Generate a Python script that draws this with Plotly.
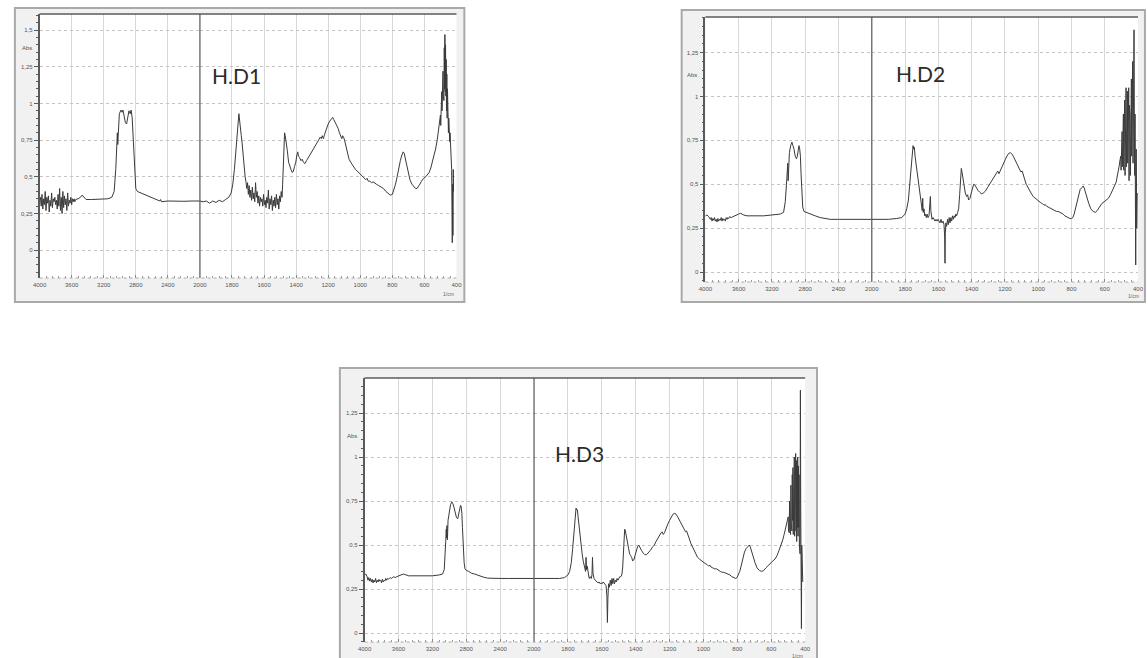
import plotly.graph_objects as go

W, H = 1148, 658

# ---- FTIR spectra: wavenumber (cm-1) and absorbance ----
hd1_wn = [4000, 3990, 3980, 3970, 3960, 3950, 3940, 3930, 3920, 3910, 3900, 3890, 3880, 3870, 3860,
          3850, 3840, 3830, 3820, 3810, 3800, 3790, 3780, 3770, 3760, 3750, 3740, 3730, 3720, 3710,
          3700, 3690, 3680, 3670, 3660, 3650, 3640, 3630, 3620, 3610, 3600, 3590, 3580, 3570, 3560,
          3550, 3520, 3490, 3470, 3450, 3420, 3350, 3250, 3150, 3100, 3070, 3050, 3040, 3030, 3025,
          3018, 3005, 2985, 2970, 2960, 2945, 2930, 2915, 2900, 2885, 2870, 2858, 2845, 2830, 2815,
          2800, 2780, 2740, 2700, 2650, 2600, 2540, 2500, 2490, 2480, 2400, 2300, 2200, 2100, 2000,
          1980, 1960, 1940, 1920, 1900, 1880, 1860, 1840, 1820, 1805, 1795, 1785, 1777, 1768, 1762,
          1757, 1752, 1748, 1742, 1737, 1730, 1724, 1718, 1712, 1708, 1703, 1698, 1693, 1688, 1683,
          1678, 1673, 1668, 1663, 1658, 1653, 1648, 1643, 1638, 1633, 1628, 1623, 1618, 1613, 1608,
          1603, 1598, 1593, 1588, 1583, 1578, 1573, 1568, 1563, 1558, 1553, 1548, 1543, 1538, 1533,
          1528, 1523, 1518, 1513, 1508, 1503, 1498, 1493, 1488, 1484, 1480, 1476, 1472, 1468, 1462,
          1455, 1447, 1440, 1432, 1425, 1418, 1410, 1402, 1395, 1390, 1385, 1378, 1370, 1362, 1355,
          1345, 1335, 1325, 1315, 1300, 1290, 1280, 1270, 1260, 1250, 1243, 1237, 1230, 1222, 1212,
          1200, 1190, 1180, 1172, 1165, 1155, 1145, 1138, 1130, 1122, 1115, 1110, 1104, 1098, 1090,
          1080, 1070, 1060, 1050, 1040, 1030, 1020, 1010, 1000, 990, 975, 965, 958, 950, 940,
          930, 920, 910, 900, 885, 870, 855, 840, 825, 812, 800, 790, 780, 770, 760,
          750, 740, 732, 726, 718, 710, 700, 690, 678, 665, 655, 646, 638, 628, 618,
          605, 592, 580, 570, 560, 550, 540, 530, 520, 510, 505, 500, 498, 496, 494,
          492, 490, 488, 486, 484, 482, 480, 478, 476, 474, 472, 470, 468, 466, 464,
          462, 460, 458, 456, 454, 452, 450, 448, 446, 444, 442, 440, 436, 432, 430,
          428, 426, 424, 422, 420, 418]
hd1_abs = [0.34, 0.36, 0.30, 0.38, 0.28, 0.35, 0.31, 0.40, 0.27, 0.36, 0.32, 0.37, 0.26, 0.34, 0.30,
           0.39, 0.29, 0.35, 0.33, 0.36, 0.31, 0.34, 0.28, 0.38, 0.30, 0.42, 0.27, 0.36, 0.25, 0.40,
           0.29, 0.37, 0.31, 0.35, 0.27, 0.39, 0.30, 0.34, 0.32, 0.36, 0.31, 0.35, 0.33, 0.35, 0.33,
           0.345, 0.35, 0.36, 0.375, 0.36, 0.345, 0.345, 0.345, 0.35, 0.36, 0.40, 0.55, 0.70, 0.80, 0.72,
           0.85, 0.93, 0.955, 0.94, 0.955, 0.90, 0.87, 0.86, 0.90, 0.95, 0.93, 0.955, 0.90, 0.70, 0.50,
           0.42, 0.40, 0.39, 0.385, 0.37, 0.355, 0.345, 0.335, 0.345, 0.33, 0.335, 0.333, 0.333, 0.335, 0.335,
           0.33, 0.335, 0.32, 0.335, 0.325, 0.34, 0.33, 0.345, 0.36, 0.39, 0.45, 0.55, 0.68, 0.80, 0.90,
           0.93, 0.88, 0.82, 0.78, 0.73, 0.62, 0.55, 0.50, 0.46, 0.42, 0.46, 0.38, 0.44, 0.36, 0.41,
           0.34, 0.43, 0.35, 0.39, 0.33, 0.46, 0.36, 0.40, 0.32, 0.37, 0.30, 0.36, 0.33, 0.35, 0.30,
           0.38, 0.31, 0.34, 0.29, 0.36, 0.32, 0.41, 0.28, 0.35, 0.31, 0.37, 0.27, 0.34, 0.30, 0.36,
           0.29, 0.38, 0.31, 0.35, 0.28, 0.37, 0.33, 0.40, 0.36, 0.45, 0.62, 0.74, 0.80, 0.78, 0.74,
           0.68, 0.60, 0.57, 0.55, 0.53, 0.535, 0.57, 0.60, 0.65, 0.67, 0.64, 0.63, 0.61, 0.62, 0.60,
           0.59, 0.61, 0.63, 0.65, 0.68, 0.69, 0.71, 0.73, 0.75, 0.77, 0.76, 0.78, 0.76, 0.79, 0.83,
           0.86, 0.88, 0.895, 0.905, 0.89, 0.87, 0.85, 0.83, 0.80, 0.77, 0.76, 0.78, 0.77, 0.75, 0.71,
           0.66, 0.62, 0.60, 0.58, 0.56, 0.55, 0.54, 0.53, 0.52, 0.51, 0.49, 0.48, 0.49, 0.47, 0.47,
           0.46, 0.465, 0.455, 0.45, 0.44, 0.43, 0.42, 0.40, 0.385, 0.375, 0.38, 0.41, 0.45, 0.50, 0.56,
           0.61, 0.65, 0.67, 0.66, 0.62, 0.57, 0.52, 0.48, 0.45, 0.43, 0.42, 0.42, 0.43, 0.45, 0.47,
           0.49, 0.50, 0.515, 0.53, 0.56, 0.60, 0.64, 0.69, 0.75, 0.82, 0.87, 0.92, 0.85, 0.98, 0.90,
           1.08, 0.95, 1.15, 1.00, 1.22, 1.05, 1.30, 1.02, 1.38, 1.10, 1.47, 1.08, 1.40, 1.05, 1.30,
           0.95, 1.20, 0.90, 1.10, 0.82, 0.98, 0.80, 0.90, 0.76, 0.85, 0.74, 0.80, 0.70, 0.60, 0.55,
           0.30, 0.05, 0.45, 0.10, 0.55, 0.40]

hd2_wn = [4000, 3980, 3960, 3940, 3930, 3920, 3910, 3900, 3890, 3880, 3870, 3860, 3850, 3840, 3830,
          3820, 3810, 3800, 3790, 3780, 3770, 3760, 3750, 3740, 3730, 3720, 3710, 3690, 3670, 3640,
          3620, 3600, 3580, 3560, 3540, 3500, 3450, 3400, 3300, 3200, 3100, 3060, 3040, 3025, 3018,
          3014, 3010, 3005, 3000, 2990, 2975, 2960, 2948, 2935, 2920, 2905, 2895, 2885, 2875, 2866,
          2858, 2850, 2840, 2830, 2815, 2790, 2760, 2720, 2680, 2620, 2560, 2500, 2400, 2300, 2200,
          2100, 2000, 1950, 1900, 1850, 1820, 1800, 1790, 1780, 1772, 1765, 1758, 1752, 1748, 1744,
          1740, 1734, 1728, 1722, 1716, 1710, 1704, 1700, 1697, 1694, 1691, 1686, 1682, 1678, 1672,
          1668, 1662, 1656, 1652, 1648, 1645, 1642, 1638, 1632, 1626, 1620, 1614, 1608, 1602, 1596,
          1590, 1584, 1578, 1572, 1566, 1562, 1560, 1558, 1555, 1550, 1545, 1540, 1535, 1530, 1525,
          1520, 1515, 1510, 1505, 1500, 1495, 1490, 1484, 1478, 1472, 1466, 1462, 1458, 1452, 1445,
          1438, 1430, 1424, 1418, 1410, 1402, 1395, 1388, 1380, 1372, 1362, 1352, 1340, 1330, 1318,
          1305, 1292, 1280, 1270, 1260, 1250, 1243, 1236, 1228, 1218, 1208, 1198, 1188, 1178, 1168,
          1160, 1150, 1140, 1130, 1120, 1112, 1104, 1096, 1090, 1082, 1072, 1062, 1050, 1040, 1030,
          1018, 1005, 995, 985, 975, 965, 958, 950, 940, 930, 920, 910, 900, 890, 880,
          870, 860, 850, 840, 830, 820, 810, 800, 792, 784, 776, 768, 758, 748, 738,
          730, 724, 716, 706, 696, 684, 670, 656, 645, 632, 618, 604, 590, 578, 566,
          554, 542, 532, 522, 514, 508, 504, 502, 500, 498, 496, 494, 492, 490, 488,
          486, 484, 482, 480, 478, 476, 474, 472, 470, 468, 466, 464, 462, 460, 458,
          456, 454, 452, 450, 448, 446, 444, 442, 440, 438, 436, 434, 432, 430, 428,
          426, 424, 422, 420, 418, 416, 414, 411, 408, 405]
hd2_abs = [0.32, 0.325, 0.315, 0.30, 0.31, 0.29, 0.305, 0.295, 0.31, 0.29, 0.30, 0.285, 0.305, 0.29, 0.30,
           0.295, 0.31, 0.29, 0.305, 0.295, 0.30, 0.29, 0.31, 0.30, 0.31, 0.305, 0.315, 0.31, 0.315, 0.32,
           0.325, 0.33, 0.335, 0.33, 0.325, 0.32, 0.32, 0.32, 0.32, 0.325, 0.33, 0.34, 0.40, 0.50, 0.60,
           0.55, 0.62, 0.52, 0.62, 0.68, 0.72, 0.74, 0.72, 0.70, 0.66, 0.645, 0.66, 0.69, 0.72, 0.70,
           0.66, 0.56, 0.45, 0.37, 0.345, 0.34, 0.335, 0.325, 0.32, 0.31, 0.305, 0.30, 0.30, 0.30, 0.30,
           0.30, 0.30, 0.30, 0.30, 0.305, 0.31, 0.33, 0.36, 0.41, 0.50, 0.60, 0.68, 0.72, 0.70, 0.71,
           0.66, 0.62, 0.58, 0.54, 0.48, 0.44, 0.40, 0.37, 0.35, 0.42, 0.34, 0.36, 0.32, 0.33, 0.31,
           0.33, 0.31, 0.32, 0.36, 0.43, 0.35, 0.31, 0.30, 0.31, 0.30, 0.29, 0.30, 0.29, 0.30, 0.29,
           0.28, 0.30, 0.28, 0.29, 0.27, 0.20, 0.05, 0.22, 0.28, 0.26, 0.30, 0.27, 0.31, 0.28, 0.31,
           0.29, 0.32, 0.30, 0.32, 0.31, 0.33, 0.32, 0.34, 0.36, 0.44, 0.54, 0.59, 0.57, 0.53, 0.48,
           0.45, 0.43, 0.44, 0.41, 0.42, 0.45, 0.48, 0.50, 0.495, 0.48, 0.465, 0.455, 0.445, 0.45, 0.46,
           0.48, 0.50, 0.52, 0.54, 0.555, 0.57, 0.575, 0.56, 0.575, 0.60, 0.62, 0.64, 0.66, 0.675, 0.68,
           0.675, 0.66, 0.64, 0.62, 0.60, 0.58, 0.57, 0.575, 0.56, 0.53, 0.50, 0.48, 0.46, 0.445, 0.43,
           0.42, 0.41, 0.40, 0.395, 0.39, 0.38, 0.385, 0.375, 0.37, 0.365, 0.362, 0.355, 0.35, 0.345, 0.345,
           0.34, 0.335, 0.33, 0.32, 0.315, 0.31, 0.305, 0.305, 0.31, 0.33, 0.36, 0.40, 0.44, 0.47, 0.48,
           0.49, 0.48, 0.45, 0.42, 0.39, 0.36, 0.345, 0.34, 0.35, 0.37, 0.39, 0.40, 0.41, 0.42, 0.44,
           0.47, 0.49, 0.51, 0.55, 0.60, 0.64, 0.66, 0.58, 0.72, 0.62, 0.80, 0.60, 0.84, 0.66, 0.90,
           0.58, 0.95, 0.62, 0.98, 0.55, 1.02, 0.66, 1.05, 0.60, 1.00, 0.70, 1.03, 0.62, 0.98, 0.68,
           1.05, 0.52, 0.95, 0.60, 0.90, 0.55, 1.00, 0.62, 1.10, 0.66, 1.15, 0.70, 1.20, 0.62, 0.95,
           1.05, 1.38, 0.80, 0.55, 0.90, 0.35, 0.04, 0.70, 0.25, 0.45]

hd3_wn = [4000, 3985, 3970, 3960, 3950, 3940, 3930, 3920, 3910, 3900, 3890, 3880, 3870, 3860, 3850,
          3840, 3830, 3820, 3810, 3800, 3790, 3780, 3770, 3760, 3750, 3740, 3730, 3720, 3700, 3680,
          3660, 3640, 3620, 3600, 3570, 3540, 3510, 3480, 3440, 3380, 3300, 3200, 3120, 3080, 3060,
          3050, 3042, 3036, 3032, 3028, 3022, 3015, 3000, 2985, 2970, 2958, 2945, 2930, 2915, 2900,
          2890, 2878, 2868, 2860, 2852, 2845, 2835, 2825, 2815, 2800, 2770, 2740, 2700, 2650, 2600,
          2550, 2500, 2400, 2300, 2200, 2100, 2000, 1950, 1900, 1850, 1820, 1800, 1790, 1780, 1772,
          1765, 1758, 1752, 1748, 1744, 1740, 1734, 1728, 1722, 1716, 1710, 1704, 1700, 1696, 1693,
          1690, 1686, 1682, 1678, 1674, 1668, 1662, 1658, 1655, 1652, 1646, 1640, 1634, 1628, 1622,
          1616, 1610, 1604, 1598, 1592, 1586, 1580, 1575, 1570, 1567, 1564, 1560, 1555, 1550, 1545,
          1540, 1535, 1530, 1525, 1520, 1515, 1510, 1505, 1500, 1494, 1488, 1482, 1477, 1472, 1468,
          1465, 1461, 1456, 1450, 1443, 1436, 1430, 1424, 1418, 1411, 1404, 1396, 1389, 1382, 1375,
          1366, 1356, 1346, 1336, 1325, 1313, 1300, 1290, 1280, 1270, 1260, 1250, 1244, 1237, 1230,
          1220, 1210, 1200, 1190, 1180, 1170, 1162, 1152, 1142, 1132, 1122, 1114, 1106, 1100, 1093,
          1085, 1075, 1065, 1055, 1045, 1035, 1024, 1012, 1000, 990, 980, 970, 962, 955, 945,
          935, 924, 912, 900, 890, 880, 868, 856, 844, 832, 820, 810, 802, 794, 786,
          778, 768, 758, 748, 738, 730, 724, 716, 706, 696, 684, 670, 656, 645, 632,
          618, 604, 590, 578, 566, 554, 542, 532, 524, 516, 508, 500, 498, 496, 494,
          492, 490, 488, 486, 484, 482, 480, 478, 476, 474, 472, 470, 468, 466, 464,
          462, 460, 458, 456, 454, 452, 450, 448, 446, 444, 442, 440, 438, 436, 434,
          432, 430, 428, 426, 424, 422, 420, 417, 414]
hd3_abs = [0.33, 0.335, 0.32, 0.30, 0.315, 0.295, 0.31, 0.29, 0.305, 0.285, 0.30, 0.29, 0.31, 0.285, 0.30,
           0.29, 0.305, 0.295, 0.30, 0.285, 0.305, 0.29, 0.30, 0.295, 0.31, 0.30, 0.31, 0.305, 0.315, 0.31,
           0.32, 0.315, 0.32, 0.325, 0.33, 0.335, 0.33, 0.325, 0.325, 0.325, 0.325, 0.325, 0.33, 0.335, 0.36,
           0.42, 0.52, 0.59, 0.54, 0.61, 0.53, 0.64, 0.70, 0.73, 0.745, 0.735, 0.715, 0.68, 0.655, 0.65,
           0.67, 0.70, 0.725, 0.72, 0.68, 0.60, 0.48, 0.40, 0.365, 0.356, 0.35, 0.34, 0.335, 0.325, 0.318,
           0.312, 0.31, 0.31, 0.31, 0.31, 0.31, 0.31, 0.31, 0.31, 0.31, 0.315, 0.33, 0.35, 0.40, 0.48,
           0.58, 0.66, 0.71, 0.70, 0.70, 0.66, 0.60, 0.55, 0.50, 0.45, 0.41, 0.39, 0.37, 0.35, 0.43,
           0.36, 0.38, 0.34, 0.33, 0.31, 0.32, 0.31, 0.33, 0.43, 0.34, 0.31, 0.30, 0.295, 0.29, 0.285,
           0.29, 0.28, 0.285, 0.28, 0.29, 0.28, 0.275, 0.27, 0.21, 0.06, 0.20, 0.28, 0.26, 0.30, 0.27,
           0.31, 0.28, 0.31, 0.28, 0.30, 0.29, 0.31, 0.30, 0.31, 0.32, 0.32, 0.33, 0.37, 0.46, 0.55,
           0.59, 0.58, 0.55, 0.51, 0.47, 0.45, 0.44, 0.43, 0.41, 0.415, 0.44, 0.47, 0.49, 0.50, 0.49,
           0.47, 0.455, 0.445, 0.445, 0.455, 0.47, 0.49, 0.50, 0.52, 0.54, 0.555, 0.57, 0.575, 0.56, 0.57,
           0.60, 0.62, 0.64, 0.66, 0.675, 0.68, 0.675, 0.66, 0.64, 0.62, 0.60, 0.585, 0.575, 0.58, 0.565,
           0.54, 0.51, 0.49, 0.465, 0.445, 0.43, 0.42, 0.41, 0.40, 0.395, 0.39, 0.38, 0.385, 0.375, 0.37,
           0.365, 0.365, 0.355, 0.35, 0.345, 0.345, 0.34, 0.335, 0.33, 0.32, 0.315, 0.31, 0.315, 0.33, 0.35,
           0.38, 0.42, 0.46, 0.48, 0.495, 0.50, 0.49, 0.46, 0.43, 0.40, 0.37, 0.355, 0.35, 0.355, 0.37,
           0.385, 0.40, 0.41, 0.42, 0.44, 0.47, 0.50, 0.53, 0.56, 0.60, 0.63, 0.66, 0.58, 0.70, 0.57,
           0.75, 0.60, 0.80, 0.56, 0.84, 0.62, 0.88, 0.58, 0.90, 0.64, 0.94, 0.56, 0.98, 0.62, 1.00,
           0.55, 0.96, 0.62, 1.02, 0.58, 0.98, 0.52, 0.94, 0.60, 1.00, 0.55, 0.95, 0.60, 0.90, 0.50,
           0.80, 0.45, 1.38, 0.70, 0.40, 0.025, 0.50, 0.30, 0.29]

samples = ["H.D1", "H.D2", "H.D3"]
spectra_wn = [hd1_wn, hd2_wn, hd3_wn]
spectra_abs = [hd1_abs, hd2_abs, hd3_abs]

# axis ticks: the wavenumber scale doubles below 2000 cm-1
x_ticks_high = [4000, 3600, 3200, 2800, 2400, 2000]
x_ticks_low = [1800, 1600, 1400, 1200, 1000, 800, 600, 400]
y_ticks = [0, 0.25, 0.5, 0.75, 1, 1.25, 1.5]
y_tick_text = ["0", "0,25", "0,5", "0,75", "1", "1,25", "1,5"]

# panel layout in pixels: plot area, y range, outer frame, title and "Abs" position
panels = [
    dict(L=33, R=455, T=14, B=278, yr=[-0.19, 1.61], frame=(8, 8, 463, 302),
         title=(232, 75), abs_y=1.38, unit=(447, 294)),
    dict(L=707, R=1145, T=17, B=282, yr=[-0.057, 1.453], frame=(683, 10, 1152, 302),
         title=(925, 74), abs_y=1.12, unit=(1140, 296)),
    dict(L=362, R=808, T=378, B=642, yr=[-0.051, 1.449], frame=(337, 368, 820, 662),
         title=(580, 453), abs_y=1.12, unit=(800, 656)),
]

LINE = "#3a3a3a"
GRID = "#d8d8d8"
AXIS = "#5a5a5a"
TICKFONT = dict(family="Liberation Sans, Arial", size=6, color="#555555")

fig = go.Figure()
shapes, annotations = [], []


def px_x(v):
    return v / W


def px_y(v):
    return 1 - v / H


for i, (p, name, wn, ab) in enumerate(zip(panels, samples, spectra_wn, spectra_abs)):
    xa_hi, xa_lo, ya = 2 * i + 1, 2 * i + 2, i + 1
    split = p["L"] + (p["R"] - p["L"]) * 5 / 13
    ykey = "yaxis" if ya == 1 else f"yaxis{ya}"
    xkey_hi = "xaxis" if xa_hi == 1 else f"xaxis{xa_hi}"
    xkey_lo = f"xaxis{xa_lo}"
    yname = "y" if ya == 1 else f"y{ya}"
    xname_hi = "x" if xa_hi == 1 else f"x{xa_hi}"
    xname_lo = f"x{xa_lo}"
    ydom = [px_y(p["B"]), px_y(p["T"])]

    common_x = dict(anchor=yname, showline=False, zeroline=False, showgrid=True,
                    gridcolor=GRID, gridwidth=1, ticks="inside", ticklen=3,
                    tickcolor="#888888", tickfont=TICKFONT, ticklabelstandoff=2,
                    fixedrange=True)
    fig.update_layout({
        xkey_hi: dict(common_x, domain=[px_x(p["L"]), px_x(split)], range=[4000, 2000],
                      tickvals=x_ticks_high, ticktext=[str(t) for t in x_ticks_high],
                      minor=dict(dtick=80, ticks="inside", ticklen=2, tickcolor="#999999",
                                 showgrid=False)),
        xkey_lo: dict(common_x, domain=[px_x(split), px_x(p["R"])], range=[2000, 400],
                      tickvals=x_ticks_low, ticktext=[str(t) for t in x_ticks_low],
                      minor=dict(dtick=40, ticks="inside", ticklen=2, tickcolor="#999999",
                                 showgrid=False)),
        ykey: dict(domain=ydom, anchor=xname_hi, range=p["yr"], tickvals=y_ticks,
                   ticktext=y_tick_text, showline=True, linecolor=AXIS, linewidth=1.5,
                   ticks="outside", ticklen=4, tickcolor=AXIS, tickfont=TICKFONT,
                   showgrid=True, gridcolor="#c4c4c4", griddash="dot", gridwidth=1,
                   zeroline=False, fixedrange=True,
                   minor=dict(dtick=0.05, ticks="outside", ticklen=2, tickcolor=AXIS,
                              showgrid=False)),
    })

    hi = [(w, a) for w, a in zip(wn, ab) if w >= 2000]
    lo = [(w, a) for w, a in zip(wn, ab) if w <= 2000]
    for seg, xn in ((hi, xname_hi), (lo, xname_lo)):
        fig.add_trace(go.Scatter(x=[s[0] for s in seg], y=[s[1] for s in seg],
                                 xaxis=xn, yaxis=yname, mode="lines",
                                 line=dict(color=LINE, width=1), showlegend=False,
                                 hoverinfo="skip"))

    # window frame around the plot, with a white plotting area inside
    fx0, fy0, fx1, fy1 = p["frame"]
    shapes.append(dict(type="rect", xref="paper", yref="paper", layer="below",
                       x0=px_x(fx0), x1=px_x(fx1), y0=px_y(fy1), y1=px_y(fy0),
                       fillcolor="#f1f1f1", line=dict(color="#a9a9a9", width=2)))
    shapes.append(dict(type="rect", xref="paper", yref="paper", layer="below",
                       x0=px_x(p["L"]), x1=px_x(p["R"]), y0=px_y(p["B"]), y1=px_y(p["T"]),
                       fillcolor="white", line=dict(width=0)))
    # dark top border and the 2000 cm-1 divider
    shapes.append(dict(type="line", xref="paper", yref="paper",
                       x0=px_x(p["L"]), x1=px_x(p["R"]), y0=px_y(p["T"]), y1=px_y(p["T"]),
                       line=dict(color=AXIS, width=1.5)))
    shapes.append(dict(type="line", xref="paper", yref="paper",
                       x0=px_x(split), x1=px_x(split), y0=px_y(p["B"]), y1=px_y(p["T"]),
                       line=dict(color="#555555", width=1.2)))
    # dotted bottom edge
    shapes.append(dict(type="line", xref="paper", yref="paper",
                       x0=px_x(p["L"]), x1=px_x(p["R"]), y0=px_y(p["B"]), y1=px_y(p["B"]),
                       line=dict(color="#aaaaaa", width=1, dash="dot")))

    annotations.append(dict(text=name, xref="paper", yref="paper",
                            x=px_x(p["title"][0]), y=px_y(p["title"][1]),
                            xanchor="center", yanchor="middle", showarrow=False,
                            font=dict(family="Lato, Carlito, sans-serif", size=21,
                                      color="#2a2a2a")))
    annotations.append(dict(text="Abs", xref="paper", yref=yname, x=px_x(p["L"] - 6),
                            y=p["abs_y"], xanchor="right", yanchor="middle",
                            showarrow=False, font=TICKFONT))
    annotations.append(dict(text="1/cm", xref="paper", yref="paper",
                            x=px_x(p["unit"][0]), y=px_y(p["unit"][1]),
                            xanchor="center", yanchor="middle", showarrow=False,
                            font=dict(family="Liberation Sans, Arial", size=5,
                                      color="#666666")))

fig.update_layout(width=W, height=H, margin=dict(l=0, r=0, t=0, b=0),
                  paper_bgcolor="white", plot_bgcolor="white",
                  shapes=shapes, annotations=annotations, showlegend=False)

fig.write_html("out.html", config={"displayModeBar": False})
